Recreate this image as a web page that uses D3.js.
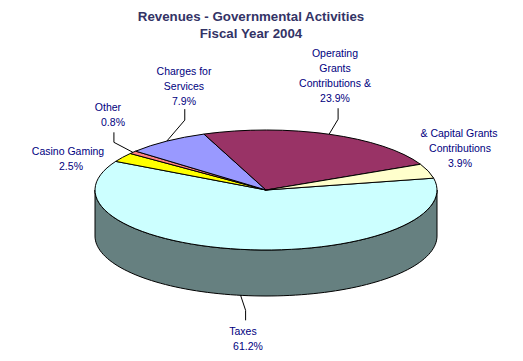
<!DOCTYPE html>
<html>
<head>
<meta charset="utf-8">
<script src="https://cdnjs.cloudflare.com/ajax/libs/d3/7.8.5/d3.min.js"></script>
<style>
  html, body { margin: 0; padding: 0; background: #fff; }
  svg { display: block; }
  text { font-family: "Liberation Sans", Arial, sans-serif; }
</style>
</head>
<body>
<div id="chart"></div>
<script>
// data, clockwise from the right edge of the taxes slice
const categories = ["Taxes", "Casino Gaming", "Other", "Charges for Services", "Operating Grants Contributions &", "& Capital Grants Contributions"];
const values = [61.2, 2.5, 0.8, 7.9, 23.9, 3.9];
const percentLabels = ["61.2%", "2.5%", "0.8%", "7.9%", "23.9%", "3.9%"];
const sliceColors = ["#ccffff", "#ffff00", "#ff8080", "#9999ff", "#993366", "#ffffcc"];
const titleLines = ["Revenues - Governmental Activities", "Fiscal Year 2004"];
const labelLines = [
    ["Taxes"],
    ["Casino Gaming"],
    ["Other"],
    ["Charges for", "Services"],
    ["Operating", "Grants", "Contributions &"],
    ["& Capital Grants", "Contributions"]
];

const dimensions = { width: 523, height: 361 };
const pieShape = { cx: 266, cy: 190, rx: 171, ry: 60, depth: 46, start: 78.6 * Math.PI / 180 };

// label placement per slice: x centre of each line, y of first baseline
const labelLayout = [
    { xs: [243, 248], y: 335 },
    { xs: [68, 71], y: 155 },
    { xs: [108, 113], y: 111 },
    { xs: [184, 184, 184], y: 75 },
    { xs: [335, 335, 335, 335], y: 57 },
    { xs: [459, 460, 460], y: 137 }
];
// leader elbows, offsets from the point on the pie edge (null = no leader)
const leaderLayout = [
    [[5, 15], [5, 25]],
    null,
    [[-19, -10], [-19, -20]],
    [[18, -21], [18, -32]],
    [[9, -15], [9, -26]],
    null
];

const svg = d3.select("#chart").append("svg")
    .attr("width", dimensions.width)
    .attr("height", dimensions.height);

// title
svg.append("g").selectAll("text").data(titleLines).join("text")
    .attr("x", 251)
    .attr("y", (d, i) => 21 + i * 17)
    .attr("text-anchor", "middle")
    .attr("font-size", 13.3)
    .attr("font-weight", "bold")
    .attr("fill", "#333366")
    .text(d => d);

const pie = d3.pie().sort(null).value(d => d)
    .startAngle(pieShape.start)
    .endAngle(pieShape.start + 2 * Math.PI);
const slices = pie(values);

// point on the ellipse for a d3 angle (0 = up, clockwise)
const edgeX = a => pieShape.cx + pieShape.rx * Math.sin(a);
const edgeY = a => pieShape.cy - pieShape.ry * Math.cos(a);

// side wall, only the front half shows
const wallAngles = d3.range(90, 270.5, 2).map(d => d * Math.PI / 180);
const wall = d3.area()
    .x(a => edgeX(a))
    .y0(a => edgeY(a))
    .y1(a => edgeY(a) + pieShape.depth);
svg.append("path")
    .attr("d", wall(wallAngles))
    .attr("fill", "#668080")
    .attr("stroke", "#000")
    .attr("stroke-width", 1);

// top of the pie, a circle squashed into an ellipse
const arc = d3.arc().innerRadius(0).outerRadius(pieShape.rx);
svg.append("g")
    .attr("transform", `translate(${pieShape.cx},${pieShape.cy}) scale(1,${pieShape.ry / pieShape.rx})`)
    .selectAll("path").data(slices).join("path")
    .attr("d", arc)
    .attr("fill", (d, i) => sliceColors[i])
    .attr("stroke", "#000")
    .attr("stroke-width", 1)
    .attr("vector-effect", "non-scaling-stroke");

// leader lines
const line = d3.line();
slices.forEach(function(s, i) {
    if (!leaderLayout[i]) return;
    const mid = (s.startAngle + s.endAngle) / 2;
    const x0 = edgeX(mid);
    // the taxes leader hangs off the bottom of the wall
    const y0 = edgeY(mid) + (i === 0 ? pieShape.depth : 0);
    const pts = [[x0, y0]].concat(leaderLayout[i].map(o => [x0 + o[0], y0 + o[1]]));
    svg.append("path")
        .attr("d", line(pts))
        .attr("fill", "none")
        .attr("stroke", "#000")
        .attr("stroke-width", 1);
});

// labels
categories.forEach(function(c, i) {
    const lines = labelLines[i].concat([percentLabels[i]]);
    svg.append("g").selectAll("text").data(lines).join("text")
        .attr("x", (d, j) => labelLayout[i].xs[j])
        .attr("y", (d, j) => labelLayout[i].y + j * 15)
        .attr("text-anchor", "middle")
        .attr("font-size", 10.5)
        .attr("fill", "#000080")
        .text(d => d);
});
</script>
</body>
</html>
